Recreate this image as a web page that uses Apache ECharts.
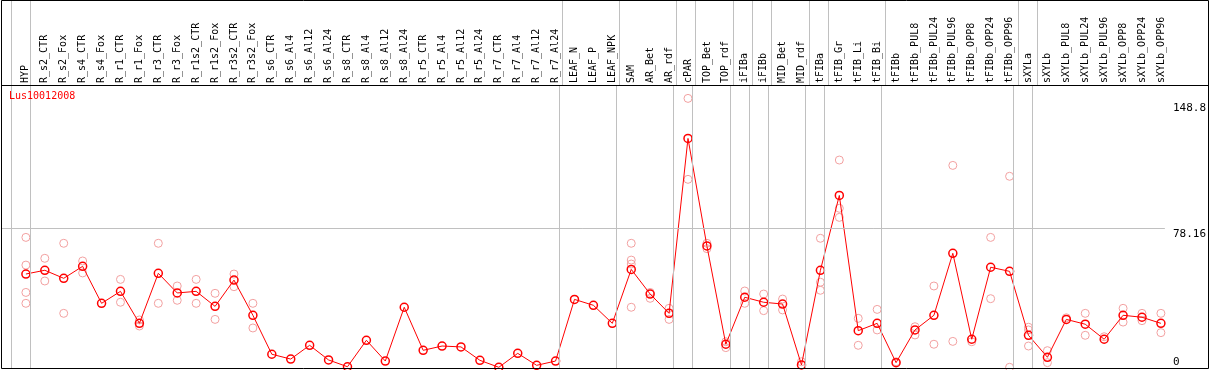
<!DOCTYPE html>
<html><head><meta charset="utf-8">
<script src="https://cdn.jsdelivr.net/npm/echarts@6/dist/echarts.min.js"></script>
<style>html,body{margin:0;padding:0;background:#fff}#c{width:1209px;height:370px}</style>
</head><body><div id="c"></div>
<script>
const geneName = 'Lus10012008';
const categories = ['HYP','R_s2_CTR','R_s2_Fox','R_s4_CTR','R_s4_Fox','R_r1_CTR','R_r1_Fox','R_r3_CTR','R_r3_Fox','R_r1s2_CTR','R_r1s2_Fox','R_r3s2_CTR','R_r3s2_Fox','R_s6_CTR','R_s6_Al4','R_s6_Al12','R_s6_Al24','R_s8_CTR','R_s8_Al4','R_s8_Al12','R_s8_Al24','R_r5_CTR','R_r5_Al4','R_r5_Al12','R_r5_Al24','R_r7_CTR','R_r7_Al4','R_r7_Al12','R_r7_Al24','LEAF_N','LEAF_P','LEAF_NPK','SAM','AR_Bet','AR_rdf','cPAR','TOP_Bet','TOP_rdf','iFIBa','iFIBb','MID_Bet','MID_rdf','tFIBa','tFIB_Gr','tFIB_Li','tFIB_Bi','tFIBb','tFIBb_PUL8','tFIBb_PUL24','tFIBb_PUL96','tFIBb_OPP8','tFIBb_OPP24','tFIBb_OPP96','sXYLa','sXYLb','sXYLb_PUL8','sXYLb_PUL24','sXYLb_PUL96','sXYLb_OPP8','sXYLb_OPP24','sXYLb_OPP96'];
const means = [52.6,54.7,50.2,56.9,36.2,42.9,25.0,53.0,42.0,42.9,34.5,49.2,29.5,7.7,5.0,12.7,4.5,0.7,15.5,3.9,34.0,9.9,12.3,11.8,4.3,0.4,8.2,1.5,3.9,38.4,35.1,25.0,55.2,41.4,30.6,128.5,68.3,13.3,39.6,36.8,35.8,1.7,54.7,96.6,20.9,25.0,3.0,21.3,29.5,64.2,16.1,56.4,54.1,18.3,6.0,27.2,24.5,16.1,29.5,28.4,25.0];
const replicates = [
  [73.1,57.6,42.3,36.2],[61.4,48.7],[69.8,30.6],[59.9,53.2],[],[49.6,36.8],[26.9,23.5],[69.8,36.2],[45.9,37.9],[49.6,36.2],[41.8,27.2],[52.6,45.5],[36.2,22.4],
  [],[],[],[],[],[],[],[],[],[],[],[],[],[],[],[],
  [],[],[],
  [69.8,60.4,58.2,34.0],[42.3,39.0],[33.4,27.2],
  [150.9,105.6],
  [69.8,66.8],[14.7,11.4],
  [43.1,36.2],[41.4,32.1],
  [38.6,32.5],[3.5],
  [72.6,48.0,43.5],
  [116.4,89.4,84.3],[27.8,12.7],[32.8,21.3],
  [3.5],[23.1,18.5],[45.9,13.3],[113.4,14.9],[14.7],[73.1,38.8],[107.3,0.4],
  [22.8,21.3,12.3],
  [9.7,3.0],[28.1],[30.6,18.3],[17.5],[33.4,25.7],[30.6,26.5],[30.6,19.8]
];
const yTickLabels = [0, 78.16, 148.8];
const groupLastCategories = ['HYP','R_r7_Al24','LEAF_NPK','AR_rdf','cPAR','TOP_rdf','iFIBa','iFIBb','MID_rdf','tFIBa','tFIB_Bi','tFIBb_OPP96','sXYLa','sXYLb_OPP96'];

const X_MIN = -1.316, X_MAX = 60.21, Y_MAX = 158.4;
const SEP_OFF = 0.22;
const sepValues = [-1 + SEP_OFF].concat(groupLastCategories.map(n => categories.indexOf(n) + SEP_OFF));
const gray = '#c0c0c0';
const mono = 'DejaVu Sans Mono';

const sepLines = sepValues.map(v => ({ xAxis: v }));
const markStyle = { symbol: ['none','none'], silent: true, animation: false, label: { show: false },
  lineStyle: { color: gray, width: 1, type: 'solid' } };

const repData = [];
replicates.forEach((arr, i) => arr.forEach(v => repData.push([i, v])));

const chart = echarts.init(document.getElementById('c'));
chart.setOption({
  animation: false,
  title: { text: geneName, left: 9, top: 91, padding: 0,
    textStyle: { color: '#ff0000', fontSize: 10, fontFamily: mono, fontWeight: 'normal' } },
  grid: [
    { left: 1, right: 39, top: 0, height: 85 },
    { left: 1, right: 39, top: 85, bottom: 2 }
  ],
  xAxis: [
    { gridIndex: 0, type: 'value', min: X_MIN, max: X_MAX, show: false },
    { gridIndex: 1, type: 'value', min: X_MIN, max: X_MAX, position: 'top',
      axisLine: { show: false }, axisTick: { show: false }, splitLine: { show: false },
      axisLabel: { customValues: categories.map((c, i) => i), formatter: v => categories[v] || '',
        rotate: 90, margin: 2, fontFamily: mono, fontSize: 10, color: '#000' } }
  ],
  yAxis: [
    { gridIndex: 0, type: 'value', min: 0, max: 1, show: false },
    { gridIndex: 1, type: 'value', min: 0, max: Y_MAX, position: 'right',
      axisLine: { show: false }, axisTick: { show: false }, splitLine: { show: false },
      axisLabel: { customValues: yTickLabels, formatter: v => String(v), margin: 8,
        fontFamily: mono, fontSize: 11, color: '#000', verticalAlign: 'top', verticalAlignMinLabel: 'bottom' } }
  ],
  graphic: [
    { type: 'rect', shape: { x: 1.5, y: 0.5, width: 1207, height: 368 }, style: { fill: 'none', stroke: '#000', lineWidth: 1 }, z: 100 },
    { type: 'line', shape: { x1: 1, y1: 85.5, x2: 1209, y2: 85.5 }, style: { stroke: '#000', lineWidth: 1 }, z: 100 }
  ],
  series: [
    { type: 'line', xAxisIndex: 0, yAxisIndex: 0, data: [[0, -5]], showSymbol: false, silent: true,
      lineStyle: { opacity: 0 }, markLine: Object.assign({ data: sepLines }, markStyle) },
    { type: 'scatter', xAxisIndex: 1, yAxisIndex: 1, data: repData, symbol: 'circle', symbolSize: 8, z: 2,
      itemStyle: { color: 'rgba(0,0,0,0)', borderColor: '#f2a0a0', borderWidth: 1, opacity: 1 } },
    { type: 'line', xAxisIndex: 1, yAxisIndex: 1, data: means.map((v, i) => [i, v]), z: 3,
      symbol: 'circle', symbolSize: 8, showAllSymbol: true,
      lineStyle: { color: '#ff0000', width: 1 },
      itemStyle: { color: 'rgba(0,0,0,0)', borderColor: '#ff0000', borderWidth: 1.5 },
      markLine: Object.assign({ data: sepLines.concat([{ yAxis: yTickLabels[1] }]) }, markStyle) }
  ]
});
</script></body></html>
